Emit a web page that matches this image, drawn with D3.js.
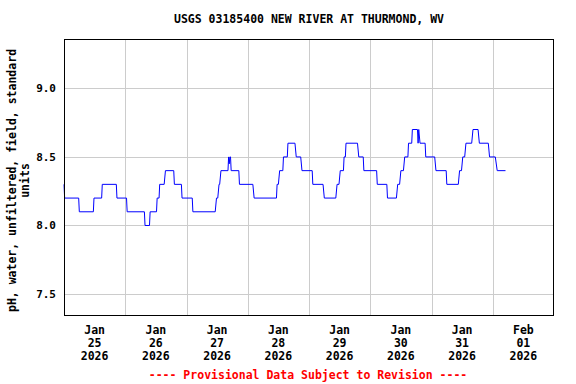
<!DOCTYPE html>
<html>
<head>
<meta charset="utf-8">
<script src="https://cdn.jsdelivr.net/npm/d3@7"></script>
<style>
  body { margin: 0; background: #fff; }
  text { font-family: "DejaVu Sans Mono", "Liberation Mono", monospace; font-weight: bold; }
</style>
</head>
<body>
<svg id="chart" width="576" height="384"></svg>
<script>
// hours after Jan 25 2026 00:00 where the line bends
const hours = [
    0, 0.25, 5.75, 6.0, 11.5, 11.75, 14.75, 15.0, 20.5, 20.75,
    24.5, 24.75, 31.5, 31.75, 33.5, 33.75, 36.25, 36.5, 37.25, 37.5,
    39.25, 39.75, 43, 43.25, 46, 46.25, 50.25, 50.5, 59.25, 59.75,
    60.25, 60.75, 61.0, 61.5, 64.25, 64.5, 64.75, 65.0, 65.25, 65.5,
    68.5, 68.75, 74, 74.5, 83.25, 83.5, 84, 84.5, 85.75, 86,
    87.5, 87.75, 90.5, 91, 92.75, 93.25, 97.25, 97.5, 101.5, 102,
    106.5, 107, 107.75, 108.25, 109.5, 109.75, 110.25, 110.5, 115, 115.5,
    117.25, 117.5, 122.5, 122.75, 126.5, 126.75, 130.25, 130.75, 131.5, 132,
    133, 133.5, 134.75, 135, 136.25, 136.5, 138.5, 138.75, 139, 139.5,
    141.5, 141.75, 145.25, 145.75, 149.75, 150, 154.5, 155, 155.75, 156.25,
    157, 157.5, 159.75, 160.25, 162.25, 162.75, 166.25, 166.75, 169, 169.75, 173
];
const phValues = [
    8.3, 8.2, 8.2, 8.1, 8.1, 8.2, 8.2, 8.3, 8.3, 8.2,
    8.2, 8.1, 8.1, 8.0, 8.0, 8.1, 8.1, 8.2, 8.2, 8.3,
    8.3, 8.4, 8.4, 8.3, 8.3, 8.2, 8.2, 8.1, 8.1, 8.2,
    8.2, 8.3, 8.3, 8.4, 8.4, 8.5, 8.45, 8.5, 8.5, 8.4,
    8.4, 8.3, 8.3, 8.2, 8.2, 8.3, 8.3, 8.4, 8.4, 8.5,
    8.5, 8.6, 8.6, 8.5, 8.5, 8.4, 8.4, 8.3, 8.3, 8.2,
    8.2, 8.3, 8.3, 8.4, 8.4, 8.5, 8.5, 8.6, 8.6, 8.5,
    8.5, 8.4, 8.4, 8.3, 8.3, 8.2, 8.2, 8.3, 8.3, 8.4,
    8.4, 8.5, 8.5, 8.6, 8.6, 8.7, 8.7, 8.6, 8.7, 8.6,
    8.6, 8.5, 8.5, 8.4, 8.4, 8.3, 8.3, 8.4, 8.4, 8.5,
    8.5, 8.6, 8.6, 8.7, 8.7, 8.6, 8.6, 8.5, 8.5, 8.4, 8.4
];
const yTicks = [7.5, 8.0, 8.5, 9.0];
const dayLabels = [
    ["Jan", "25", "2026"], ["Jan", "26", "2026"], ["Jan", "27", "2026"], ["Jan", "28", "2026"],
    ["Jan", "29", "2026"], ["Jan", "30", "2026"], ["Jan", "31", "2026"], ["Feb", "01", "2026"]
];
const title = "USGS 03185400 NEW RIVER AT THURMOND, WV";
const yLabel = ["pH, water, unfiltered, field, standard", "units"];
const footer = "---- Provisional Data Subject to Revision ----";

const start = new Date(2026, 0, 25);
const hourToDate = h => new Date(start.getTime() + h * 3600e3);
const data = hours.map((h, i) => ({ t: hourToDate(h), v: phValues[i] }));

const svg = d3.select("#chart");
const margin = { top: 39, right: 22, bottom: 68, left: 64 };
const width = 576 - margin.left - margin.right;
const height = 384 - margin.top - margin.bottom;

const x = d3.scaleTime()
    .domain([start, hourToDate(192)])
    .range([0, width]);
const y = d3.scaleLinear()
    .domain([7.34, 9.36])
    .range([height, 0]);

const g = svg.append("g").attr("transform", `translate(${margin.left},${margin.top})`);

// grid
const days = d3.range(1, 8).map(d => hourToDate(d * 24));
g.selectAll(".vgrid").data(days).enter().append("line")
    .attr("x1", d => Math.round(x(d)) + 0.5).attr("x2", d => Math.round(x(d)) + 0.5)
    .attr("y1", 0).attr("y2", height)
    .attr("stroke", "#cccccc").attr("stroke-width", 1);
g.selectAll(".hgrid").data(yTicks).enter().append("line")
    .attr("x1", 0).attr("x2", width)
    .attr("y1", d => Math.round(y(d)) + 0.5).attr("y2", d => Math.round(y(d)) + 0.5)
    .attr("stroke", "#cccccc").attr("stroke-width", 1);

// y tick labels
g.selectAll(".ylab").data(yTicks).enter().append("text")
    .attr("x", -8).attr("y", d => y(d) + 4)
    .attr("text-anchor", "end")
    .style("font-size", "11px")
    .text(d => d.toFixed(1));

// x labels at noon of each day
dayLabels.forEach((lines, i) => {
    const cx = x(hourToDate(i * 24 + 12));
    lines.forEach((s, j) => {
        g.append("text")
            .attr("x", cx).attr("y", height + 18 + j * 13)
            .attr("text-anchor", "middle")
            .style("font-size", "11.5px")
            .text(s);
    });
});

// data line
const line = d3.line().x(d => x(d.t)).y(d => y(d.v));
g.append("path")
    .datum(data)
    .attr("d", line)
    .attr("fill", "none")
    .attr("stroke", "#0000ff")
    .attr("stroke-width", 1);

// frame
g.append("rect")
    .attr("x", 0.5).attr("y", 0.5)
    .attr("width", width - 1).attr("height", height - 1)
    .attr("fill", "none").attr("stroke", "#000").attr("stroke-width", 1);

// title
svg.append("text")
    .attr("x", margin.left + width / 2).attr("y", 23)
    .attr("text-anchor", "middle")
    .style("font-size", "11.5px")
    .text(title);

// y axis title
yLabel.forEach((s, j) => {
    svg.append("text")
        .attr("transform", `translate(${16 + j * 13},${margin.top + height / 2 + 3}) rotate(-90)`)
        .attr("text-anchor", "middle")
        .style("font-size", "11.5px")
        .text(s);
});

// provisional note
svg.append("text")
    .attr("x", margin.left + width / 2 - 1).attr("y", 379)
    .attr("text-anchor", "middle")
    .attr("fill", "#ff0000")
    .style("font-size", "11.5px")
    .text(footer);
</script>
</body>
</html>
